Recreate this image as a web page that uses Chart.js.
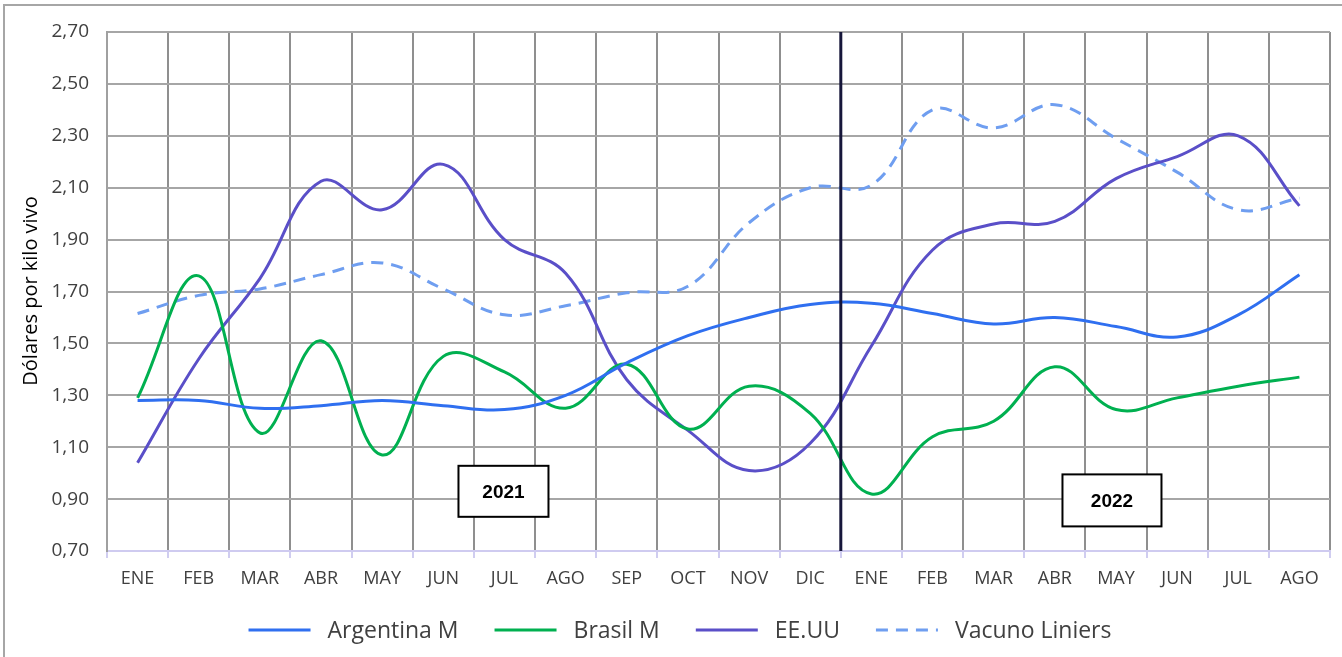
<!DOCTYPE html>
<html>
<head>
<meta charset="utf-8">
<script src="https://cdn.jsdelivr.net/npm/chart.js@4.4.1/dist/chart.umd.min.js"></script>
<style>
html,body{margin:0;padding:0;background:#fff;}
#wrap{position:relative;width:1342px;height:657px;}
</style>
</head>
<body>
<div id="wrap"><canvas id="c" width="1342" height="657"></canvas></div>
<script>
const categories = ["ENE","FEB","MAR","ABR","MAY","JUN","JUL","AGO","SEP","OCT","NOV","DIC","ENE","FEB","MAR","ABR","MAY","JUN","JUL","AGO"];
const argentinaM = [1.28,1.28,1.25,1.26,1.28,1.26,1.245,1.30,1.425,1.53,1.60,1.65,1.655,1.615,1.575,1.60,1.565,1.525,1.61,1.765];
const brasilM = [1.29,1.76,1.155,1.51,1.07,1.45,1.39,1.25,1.42,1.17,1.335,1.23,0.92,1.14,1.20,1.41,1.245,1.29,1.335,1.37];
const eeuu = [1.04,1.44,1.75,2.125,2.015,2.19,1.90,1.77,1.36,1.165,1.01,1.115,1.49,1.86,1.96,1.97,2.135,2.22,2.30,2.03];
const vacunoLiniers = [1.615,1.685,1.71,1.765,1.81,1.71,1.61,1.645,1.695,1.72,1.965,2.10,2.11,2.40,2.33,2.42,2.29,2.16,2.015,2.06];
const yTicks = ["0,70","0,90","1,10","1,30","1,50","1,70","1,90","2,10","2,30","2,50","2,70"];
const yearLabels = ["2021","2022"];
const seriesNames = ["Argentina M","Brasil M","EE.UU","Vacuno Liniers"];
const axisTitle = "Dólares por kilo vivo";

const FONT = "'Open Sans', sans-serif";
const TXT = "#404040";

const decor = {
  id: 'decor',
  beforeDraw(chart) {
    const ctx = chart.ctx;
    ctx.save();
    ctx.fillStyle = '#fff';
    ctx.fillRect(0,0,chart.width,chart.height);
    ctx.strokeStyle = '#a6a6a6';
    ctx.lineWidth = 2;
    ctx.strokeRect(4,5,chart.width+10,chart.height+10);
    ctx.restore();
  },
  afterDatasetsDraw(chart) {
    const ctx = chart.ctx;
    const xs = chart.scales.x, ys = chart.scales.y, ca = chart.chartArea;
    ctx.save();
    const sx = (xs.getPixelForValue(11) + xs.getPixelForValue(12)) / 2;
    ctx.strokeStyle = '#16163a';
    ctx.lineWidth = 3;
    ctx.beginPath(); ctx.moveTo(sx, ca.top); ctx.lineTo(sx, ca.bottom); ctx.stroke();
    const boxes = [
      {t: yearLabels[0], cx: xs.getPixelForValue(6) - 1, cy: ys.getPixelForValue(0.93), w: 90, h: 51},
      {t: yearLabels[1], cx: xs.getPixelForValue(16) - 4, cy: ys.getPixelForValue(0.895), w: 99, h: 52}
    ];
    boxes.forEach(b => {
      ctx.fillStyle = '#fff';
      ctx.fillRect(b.cx - b.w/2, b.cy - b.h/2, b.w, b.h);
      ctx.strokeStyle = '#000';
      ctx.lineWidth = 2;
      ctx.strokeRect(b.cx - b.w/2, b.cy - b.h/2, b.w, b.h);
      ctx.fillStyle = '#000';
      ctx.font = "bold 19px 'Liberation Sans', Arial, sans-serif";
      ctx.textAlign = 'center'; ctx.textBaseline = 'middle';
      ctx.fillText(b.t, b.cx, b.cy + 1);
    });
    ctx.restore();
  },
  afterDraw(chart) {
    const ctx = chart.ctx;
    ctx.save();
    ctx.fillStyle = '#000';
    ctx.font = "20px " + FONT;
    ctx.translate(31, 291);
    ctx.rotate(-Math.PI/2);
    ctx.textAlign = 'center'; ctx.textBaseline = 'middle';
    ctx.fillText(axisTitle, 0, 0);
    ctx.restore();
    ctx.save();
    ctx.font = "23px " + FONT;
    const ds = chart.data.datasets;
    const sw = 62, g1 = 17, g2 = 36;
    let total = 0;
    const widths = ds.map(d => ctx.measureText(d.label).width);
    widths.forEach((w,i) => { total += sw + g1 + w + (i < ds.length-1 ? g2 : 0); });
    let x = 680 - total/2;
    const y = 630;
    ds.forEach((d,i) => {
      ctx.strokeStyle = d.borderColor;
      ctx.lineWidth = 3;
      ctx.setLineDash(d.borderDash || []);
      ctx.beginPath(); ctx.moveTo(x, y); ctx.lineTo(x + sw, y); ctx.stroke();
      ctx.setLineDash([]);
      ctx.fillStyle = TXT;
      ctx.textAlign = 'left'; ctx.textBaseline = 'middle';
      ctx.fillText(d.label, x + sw + g1, y + 1);
      x += sw + g1 + widths[i] + g2;
    });
    ctx.restore();
  }
};

const mk = (label, data, color, dash) => ({
  label, data, borderColor: color, backgroundColor: color,
  borderWidth: 3, borderDash: dash || [], pointRadius: 0, pointHoverRadius: 0,
  tension: 0.4, fill: false
});

new Chart(document.getElementById('c'), {
  type: 'line',
  data: {
    labels: categories,
    datasets: [
      mk(seriesNames[0], argentinaM, '#2f6ff0'),
      mk(seriesNames[1], brasilM, '#00b050'),
      mk(seriesNames[2], eeuu, '#5a4fc8'),
      mk(seriesNames[3], vacunoLiniers, '#6f9ef0', [12, 8])
    ]
  },
  options: {
    responsive: false,
    animation: false,
    events: [],
    layout: { padding: { left: 0, right: 12, top: 32, bottom: 0 } },
    plugins: { legend: { display: false }, tooltip: { enabled: false }, title: { display: false } },
    scales: {
      x: {
        offset: true,
        grid: { offset: true, color: '#8f8f8f', lineWidth: 2, tickLength: 7, tickColor: '#d0cdf0', drawOnChartArea: true },
        border: { display: true, color: '#cfcbf0', width: 2 },
        ticks: { color: TXT, font: { family: FONT, size: 18 }, padding: 10, maxRotation: 0, autoSkip: false },
        afterFit(s) { s.height = 106; }
      },
      y: {
        min: 0.7, max: 2.7,
        grid: { color: '#a6a6a6', lineWidth: 2, drawTicks: false },
        border: { display: true, color: '#a0a0a0', width: 2 },
        ticks: {
          stepSize: 0.2, color: TXT, font: { family: FONT, size: 19 }, padding: 18,
          callback: (v, i) => yTicks[i]
        },
        afterFit(s) { s.width = 107; }
      }
    }
  },
  plugins: [decor]
});
</script>
</body>
</html>
